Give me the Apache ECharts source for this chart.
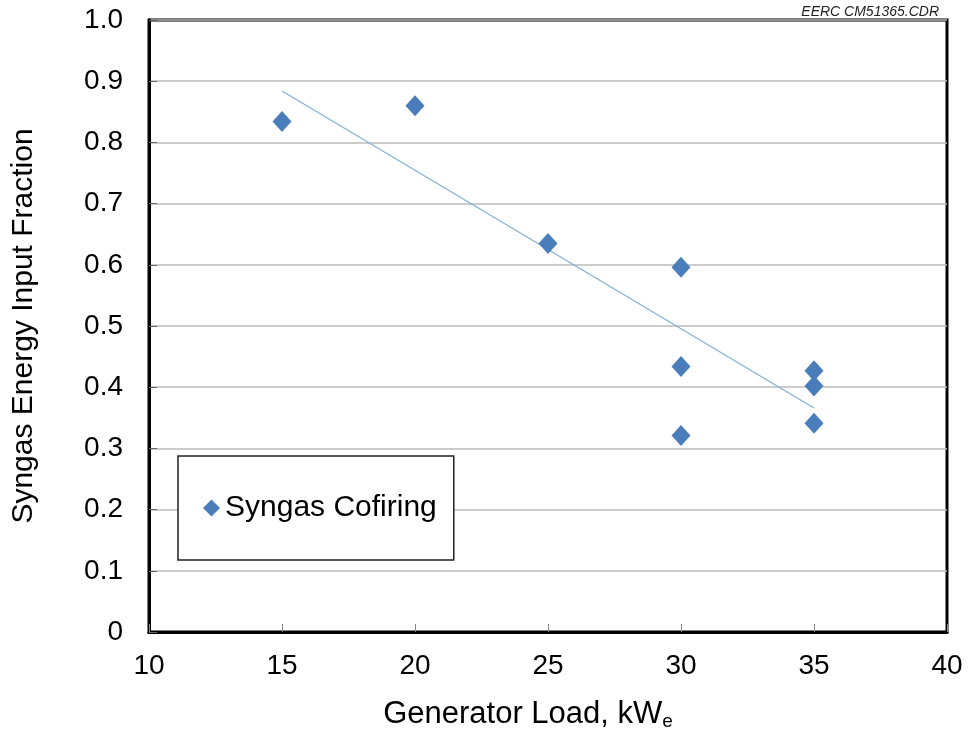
<!doctype html>
<html>
<head>
<meta charset="utf-8">
<title>Syngas Energy Input Fraction</title>
<script src="https://cdn.jsdelivr.net/npm/echarts@6/dist/echarts.min.js"></script>
<style type="text/css">
	html, body { margin: 0; padding: 0; background: #fff; }
	#chart { width: 968px; height: 731px; }
</style>
</head>
<body>
<div id="chart"></div>
<script type="text/javascript">
	// measured points, generator load (kWe) vs syngas fraction
	var loadKw = [15, 20, 25, 30, 30, 30, 35, 35, 35];
	var syngasFraction = [0.834, 0.860, 0.635, 0.596, 0.434, 0.321, 0.427, 0.402, 0.341];
	// trend line end points
	var trendX = [15, 35];
	var trendY = [0.884, 0.366];
	var seriesName = 'Syngas Cofiring';

	var pts = [];
	for (var i = 0; i < loadKw.length; i++) {
		pts.push([loadKw[i], syngasFraction[i]]);
	}
	var trend = [];
	for (var j = 0; j < trendX.length; j++) {
		trend.push([trendX[j], trendY[j]]);
	}

	var font = '"Liberation Sans", Arial, sans-serif';
	var myChart = echarts.init(document.getElementById('chart'));
	var option = {
		backgroundColor: '#fff',
		animation: false,
		textStyle: { fontFamily: font },
		title: {
			text: 'EERC CM51365.CDR',
			right: 24,
			top: 0,
			textStyle: { fontSize: 14, fontWeight: 'normal', fontStyle: 'italic', color: '#222', fontFamily: font }
		},
		grid: {
			left: 149,
			right: 21,
			top: 20,
			bottom: 99,
			outerBoundsMode: 'none',
			show: true,
			borderColor: '#000',
			borderWidth: 3
		},
		legend: {
			data: [seriesName],
			left: 178,
			top: 456,
			orient: 'vertical',
			padding: [37, 17, 37, 25],
			borderColor: '#222',
			borderWidth: 1.5,
			backgroundColor: '#fff',
			itemWidth: 17,
			itemHeight: 17,
			textStyle: { fontSize: 30, color: '#000', fontFamily: font }
		},
		xAxis: {
			type: 'value',
			min: 10,
			max: 40,
			interval: 5,
			name: '{a|Generator Load, kW}{b|e}',
			nameLocation: 'middle',
			nameGap: 66,
			nameTextStyle: {
				padding: [0, 40, 0, 0],
				rich: {
					a: { fontSize: 31, color: '#000', fontFamily: font },
					b: { fontSize: 19, color: '#000', fontFamily: font, padding: [14, 0, 0, 0] }
				}
			},
			axisLine: { show: true, lineStyle: { color: '#000', width: 3 } },
			axisTick: { show: true, inside: true, length: 8, lineStyle: { color: '#888' } },
			axisLabel: { fontSize: 28, color: '#000', margin: 20 },
			splitLine: { show: false }
		},
		yAxis: {
			type: 'value',
			min: 0,
			max: 1,
			interval: 0.1,
			name: 'Syngas Energy Input Fraction',
			nameLocation: 'middle',
			nameGap: 110,
			nameTextStyle: { fontSize: 30, color: '#000', fontFamily: font },
			axisLine: { show: true, lineStyle: { color: '#000', width: 3 } },
			axisTick: { show: true, inside: true, length: 8, lineStyle: { color: '#666' } },
			axisLabel: {
				fontSize: 28,
				color: '#000',
				margin: 26,
				formatter: function (v) {
					if (v === 0) return '0';
					return v.toFixed(1);
				}
			},
			splitLine: { show: true, lineStyle: { color: '#bbb', width: 1.5 } }
		},
		series: [
			{
				name: 'trend',
				type: 'line',
				data: trend,
				symbol: 'none',
				silent: true,
				lineStyle: { color: '#7fb2d6', width: 1.2 },
				z: 2
			},
			{
				name: seriesName,
				type: 'scatter',
				data: pts,
				symbol: 'diamond',
				symbolSize: [19, 21],
				itemStyle: { color: '#4a7ebb', opacity: 1 },
				z: 3
			}
		]
	};
	myChart.setOption(option);
</script>
</body>
</html>
